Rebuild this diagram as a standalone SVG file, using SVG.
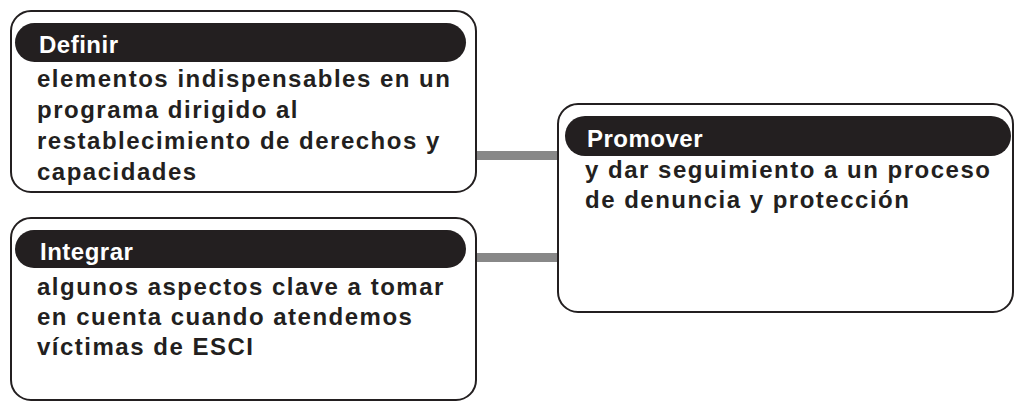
<svg xmlns="http://www.w3.org/2000/svg" width="1016" height="402" viewBox="0 0 1016 402">
<style>
.box{fill:#fff;stroke:#231f20;stroke-width:2}
.pill{fill:#231f20}
.hd{font-family:"Liberation Sans",Arial,sans-serif;font-weight:bold;font-size:24px;letter-spacing:0.5px;fill:#fff}
.bd{font-family:"Liberation Sans",Arial,sans-serif;font-weight:bold;font-size:24px;letter-spacing:1.5px;fill:#231f20}
.conn{fill:#888888}
</style>
<rect width="1016" height="402" fill="#fff"/>
<g id="connectors">
<rect class="conn" x="476" y="151" width="82" height="9"/>
<rect class="conn" x="476" y="253" width="82" height="9"/>
</g>
<g id="node-definir">
<rect class="box" x="11" y="11" width="465" height="181" rx="20"/>
<rect class="pill" x="15" y="23" width="451" height="39" rx="19.5"/>
<text class="hd" x="39" y="53">Definir</text>
<text class="bd" x="37" y="87">elementos indispensables en un</text>
<text class="bd" x="37" y="118">programa dirigido al</text>
<text class="bd" x="37" y="149">restablecimiento de derechos y</text>
<text class="bd" x="37" y="180">capacidades</text>
</g>
<g id="node-integrar">
<rect class="box" x="11" y="218" width="465" height="182" rx="20"/>
<rect class="pill" x="15" y="230" width="451" height="38" rx="19"/>
<text class="hd" x="40" y="260">Integrar</text>
<text class="bd" x="37" y="295">algunos aspectos clave a tomar</text>
<text class="bd" x="37" y="325">en cuenta cuando atendemos</text>
<text class="bd" x="37" y="355">víctimas de ESCI</text>
</g>
<g id="node-promover">
<rect class="box" x="558" y="104" width="455" height="208" rx="20"/>
<rect class="pill" x="565" y="116" width="446" height="40" rx="20"/>
<text class="hd" x="587" y="147">Promover</text>
<text class="bd" x="585" y="178">y dar seguimiento a un proceso</text>
<text class="bd" x="585" y="208">de denuncia y protección</text>
</g>
</svg>
